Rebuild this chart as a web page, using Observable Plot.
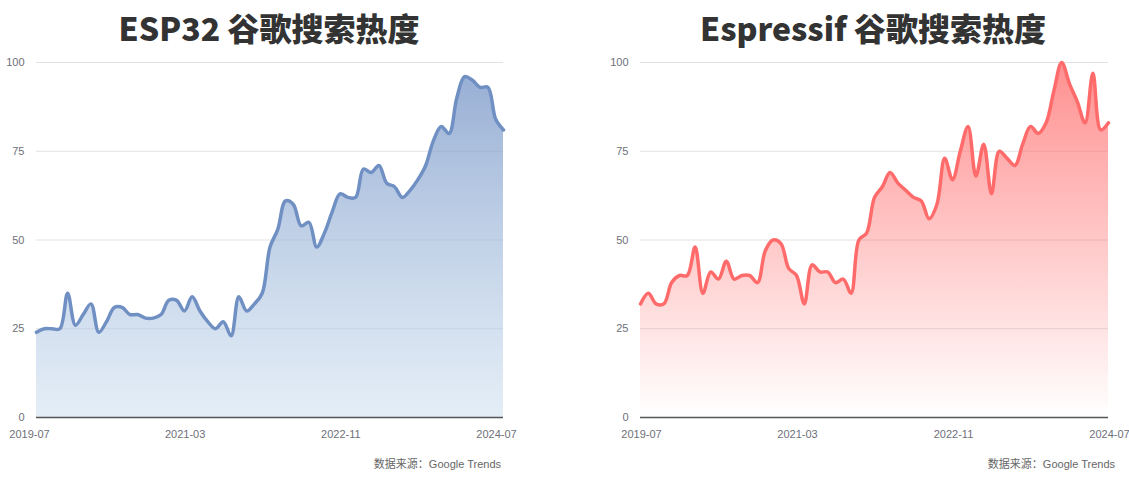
<!DOCTYPE html>
<html><head><meta charset="utf-8">
<script src="https://cdn.jsdelivr.net/npm/d3@7"></script>
<script src="https://cdn.jsdelivr.net/npm/@observablehq/plot@0.6"></script>
<style>
body{margin:0;background:#fff;}
#root{position:relative;width:1129px;height:479px;overflow:hidden;font-family:"Liberation Sans","Noto Sans CJK SC",sans-serif;}
.title{position:absolute;top:5px;font-family:"Noto Sans CJK SC",sans-serif;font-weight:900;font-size:32px;line-height:44px;color:#333;white-space:nowrap;transform:translateX(-50%);}
.chart{position:absolute;top:50px;}
.caption{position:absolute;top:457px;font-size:11px;line-height:14px;color:#666;white-space:nowrap;transform:translateX(-100%);font-family:"Liberation Sans","Noto Sans CJK SC",sans-serif;}
</style></head><body><div id="root"></div>
<script>
// categories: monthly, 2019-07 .. 2024-07
const months = d3.utcMonths(new Date(Date.UTC(2019,6,1)), new Date(Date.UTC(2024,6,2))).map(d3.utcFormat("%Y-%m"));
const xTickLabels = ["2019-07","2021-03","2022-11","2024-07"];
const yTicks = [0,25,50,75,100];

const esp32Values = [24,25,25,25,35,26,29,32,24,27,31,31,29,29,28,28,29,33,33,30,34,30,27,25,27,23,34,30,32,35,48,53,61,60,54,55,48,52,58,63,62,62,70,69,71,66,65,62,64,67,71,78,82,80,90,96,95,93,93,84,81];
const espressifValues = [32,35,32,32,38,40,40,48,35,41,39,44,39,40,40,38,47,50,49,42,40,32,43,41,41,38,39,35,50,52,62,65,69,66,64,62,61,56,60,73,67,75,82,68,77,63,75,73,71,77,82,80,83,92,100,94,89,83,97,81,83];

const titles = ["ESP32 谷歌搜索热度", "Espressif 谷歌搜索热度"];
const captionText = "数据来源：Google Trends";

const root = document.getElementById("root");

function makeChart(values, o) {
  const data = months.map((m, i) => ({month: m, value: values[i]}));
  const svg = Plot.plot({
    width: o.width, height: 397,
    marginTop: 12, marginBottom: 30, marginLeft: o.marginLeft, marginRight: o.marginRight,
    style: {fontFamily: '"Liberation Sans","Noto Sans CJK SC",sans-serif', fontSize: "11px", color: "#6e7079", background: "transparent", overflow: "visible"},
    x: {type: "point", domain: months, padding: 0, axis: null},
    y: {domain: [0, 100], axis: null},
    marks: [
      Plot.gridY([25,50,75,100], {stroke: "#e2e2e2", strokeOpacity: 1}),
      Plot.areaY(data, {x: "month", y: "value", fill: `url(#${o.gradId})`, curve: "catmull-rom"}),
      Plot.lineY(data, {x: "month", y: "value", stroke: o.color, strokeWidth: 3.5, curve: "catmull-rom"}),
      Plot.ruleY([0], {stroke: "#555", strokeWidth: 1.5}),
      Plot.axisY(yTicks, {tickSize: 0, tickPadding: 12, label: null, fontSize: 11}),
      Plot.axisX(xTickLabels, {tickSize: 0, tickPadding: 13, label: null, dx: o.dx, fontSize: 11})
    ]
  });
  const defs = d3.create("svg:defs");
  const g = defs.append("linearGradient").attr("id", o.gradId)
    .attr("x1", 0).attr("y1", 0).attr("x2", 0).attr("y2", 1);
  g.append("stop").attr("offset", "0%").attr("stop-color", o.color).attr("stop-opacity", o.a0);
  g.append("stop").attr("offset", "100%").attr("stop-color", o.color1).attr("stop-opacity", o.a1);
  svg.prepend(defs.node());
  svg.classList.add("chart");
  svg.style.left = o.left + "px";
  root.appendChild(svg);

  const t = document.createElement("div");
  t.className = "title"; t.textContent = o.title; t.style.left = o.titleX + "px";
  root.appendChild(t);
  const c = document.createElement("div");
  c.className = "caption"; c.textContent = captionText; c.style.left = o.captionX + "px";
  root.appendChild(c);
}

makeChart(esp32Values, {width: 564, left: 0, marginLeft: 36, marginRight: 61, color: "#7090c4", color1: "#c8dcee", gradId: "gBlue", a0: 0.72, a1: 0.5, dx: -7, title: titles[0], titleX: 269, captionX: 501});
makeChart(espressifValues, {width: 565, left: 564, marginLeft: 76, marginRight: 21, color: "#ff6b6b", color1: "#ff6b6b", gradId: "gRed", a0: 0.75, a1: 0.0, dx: 1, title: titles[1], titleX: 873, captionX: 1115});
</script></body></html>
